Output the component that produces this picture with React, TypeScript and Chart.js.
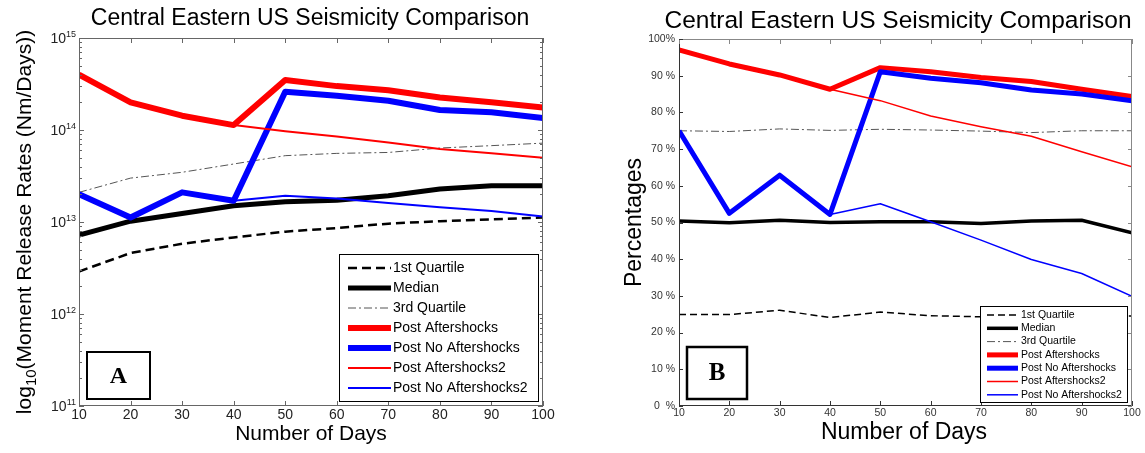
import React, { useEffect, useRef } from 'react';
import { Chart, registerables } from 'chart.js';
Chart.register(...registerables);

// ---------- data ----------
const days = [10, 20, 30, 40, 50, 60, 70, 80, 90, 100];
const seriesLabels = ['1st Quartile', 'Median', '3rd Quartile', 'Post Aftershocks', 'Post No Aftershocks', 'Post Aftershocks2', 'Post No Aftershocks2'];

// Panel A: moment release rates (Nm/Days)
const rateQ1 = [2.9e12, 4.6e12, 5.8e12, 6.8e12, 7.85e12, 8.6e12, 9.6e12, 1.02e13, 1.07e13, 1.12e13];
const rateMedian = [7.2e12, 1.02e13, 1.24e13, 1.5e13, 1.66e13, 1.72e13, 1.93e13, 2.28e13, 2.48e13, 2.48e13];
const rateQ3 = [2.1e13, 3.0e13, 3.47e13, 4.27e13, 5.26e13, 5.57e13, 5.7e13, 6.37e13, 6.76e13, 7.2e13];
const ratePostAfter = [4.0e14, 2.0e14, 1.43e14, 1.13e14, 3.5e14, 3.0e14, 2.7e14, 2.26e14, 2.0e14, 1.75e14];
const ratePostNoAfter = [2.0e13, 1.12e13, 2.1e13, 1.7e13, 2.6e14, 2.36e14, 2.08e14, 1.65e14, 1.56e14, 1.35e14];
const ratePostAfter2 = [4.0e14, 2.0e14, 1.43e14, 1.13e14, 9.7e13, 8.5e13, 7.3e13, 6.2e13, 5.6e13, 5.0e13];
const ratePostNoAfter2 = [2.0e13, 1.12e13, 2.1e13, 1.7e13, 1.93e13, 1.8e13, 1.61e13, 1.45e13, 1.32e13, 1.15e13];

// Panel B: percentages
const pctQ1 = [24.9, 24.9, 26.1, 24.1, 25.6, 24.6, 24.3, 24.5, 24.6, 24.5];
const pctMedian = [50.4, 49.9, 50.6, 50.0, 50.2, 50.2, 49.7, 50.4, 50.6, 47.2];
const pctQ3 = [75.0, 74.8, 75.5, 75.1, 75.4, 75.2, 74.9, 74.5, 75.0, 75.0];
const pctPostAfter = [97.0, 93.2, 90.2, 86.3, 92.2, 91.1, 89.5, 88.4, 86.3, 84.3];
const pctPostNoAfter = [75.0, 52.5, 62.9, 52.2, 91.1, 89.3, 88.1, 86.1, 85.0, 83.2];
const pctPostAfter2 = [97.0, 93.2, 90.2, 86.3, 83.2, 79.0, 76.1, 73.5, 69.3, 65.2];
const pctPostNoAfter2 = [75.0, 52.5, 62.9, 52.2, 55.1, 50.2, 45.2, 39.9, 36.1, 29.9];

// ticks
const dayTicks = [10, 20, 30, 40, 50, 60, 70, 80, 90, 100];
const dayTickLabels = ['10', '20', '30', '40', '50', '60', '70', '80', '90', '100'];
const rateExponents = [11, 12, 13, 14, 15];
const pctTicks = [0, 10, 20, 30, 40, 50, 60, 70, 80, 90, 100];
const pctTickLabels = ['0  %', '10 %', '20 %', '30 %', '40 %', '50 %', '60 %', '70 %', '80 %', '90 %', '100%'];

const titleText = 'Central Eastern US Seismicity Comparison';
const xTitleText = 'Number of Days';
const FONT = '"Liberation Sans", Arial, sans-serif';
const SERIF = '"Liberation Serif", "Times New Roman", serif';

type Style = { color: string; width: number; dash: number[] };

const stylesA: Style[] = [
  { color: '#000000', width: 2.5, dash: [9, 5] },
  { color: '#000000', width: 5, dash: [] },
  { color: '#555555', width: 1, dash: [8, 3, 2, 3] },
  { color: '#ff0000', width: 6, dash: [] },
  { color: '#0000ff', width: 6, dash: [] },
  { color: '#ff0000', width: 2, dash: [] },
  { color: '#0000ff', width: 2, dash: [] },
];
const stylesB: Style[] = [
  { color: '#000000', width: 1.5, dash: [7, 4] },
  { color: '#000000', width: 3.5, dash: [] },
  { color: '#555555', width: 1, dash: [8, 3, 2, 3] },
  { color: '#ff0000', width: 5, dash: [] },
  { color: '#0000ff', width: 5, dash: [] },
  { color: '#ff0000', width: 1.5, dash: [] },
  { color: '#0000ff', width: 1.5, dash: [] },
];

function makeDatasets(series: number[][], styles: Style[]) {
  return series.map((vals, i) => ({
    label: seriesLabels[i],
    data: days.map((d, j) => ({ x: d, y: vals[j] })),
    borderColor: styles[i].color,
    backgroundColor: styles[i].color,
    borderWidth: styles[i].width,
    borderDash: styles[i].dash,
    borderJoinStyle: 'round' as const,
    pointRadius: 0,
    fill: false,
    tension: 0,
    order: series.length - 1 - i,
  }));
}

type Decor = {
  titleFont: number; titleX: number; titleY: number;
  xTitleFont: number; xTitleX: number; xTitleY: number;
  yTitle: { text: string; sub?: boolean }[]; yTitleFont: number; yTitleX: number;
  axisTL: string; axisRight: string; axisTop: string;
  tickFont: number; tickColor: string; xTickTop: number;
  log: boolean;
  yLabelRight: number;
  legend: { x: number; y: number; w: number; h: number; row0: number; dy: number; s0: number; s1: number; tx: number; font: number };
  box: { x: number; y: number; w: number; h: number; lw: number; letter: string; font: number };
};

function makePlugin(decor: Decor) {
  return {
    id: 'decor',
    afterDraw(chart: any) {
      const ctx: CanvasRenderingContext2D = chart.ctx;
      const { left, right, top, bottom } = chart.chartArea;
      const xs = chart.scales.x;
      const ys = chart.scales.y;
      ctx.save();
      ctx.setLineDash([]);
      const line = (x1: number, y1: number, x2: number, y2: number, c: string, w = 1) => {
        ctx.strokeStyle = c; ctx.lineWidth = w;
        ctx.beginPath(); ctx.moveTo(x1, y1); ctx.lineTo(x2, y2); ctx.stroke();
      };
      // axes box
      line(left + 0.5, top, left + 0.5, bottom, decor.axisTL);
      line(left, bottom - 0.5, right, bottom - 0.5, decor.axisTL);
      line(left, top + 0.5, right, top + 0.5, decor.axisTop);
      line(right - 0.5, top, right - 0.5, bottom, decor.axisRight);
      // x ticks (inward, top and bottom)
      dayTicks.forEach((v) => {
        const px = Math.round(xs.getPixelForValue(v)) + 0.5;
        line(px, bottom, px, bottom - 5, decor.axisTL);
        line(px, top, px, top + 5, decor.axisTop);
      });
      // y ticks
      if (decor.log) {
        rateExponents.forEach((e) => {
          const py = Math.round(ys.getPixelForValue(Math.pow(10, e))) + 0.5;
          line(left, py, left + 5, py, decor.axisTL);
          line(right, py, right - 5, py, decor.axisRight);
          if (e < 15) {
            for (let m = 2; m <= 9; m++) {
              const pm = Math.round(ys.getPixelForValue(m * Math.pow(10, e))) + 0.5;
              line(left, pm, left + 3, pm, decor.axisTL);
              line(right, pm, right - 3, pm, decor.axisRight);
            }
          }
        });
      } else {
        pctTicks.forEach((v) => {
          const py = Math.round(ys.getPixelForValue(v)) + 0.5;
          line(left, py, left + 4, py, decor.axisTL);
          line(right, py, right - 4, py, decor.axisRight);
        });
      }
      // tick labels
      ctx.fillStyle = decor.tickColor;
      ctx.font = `${decor.tickFont}px ${FONT}`;
      ctx.textAlign = 'center';
      ctx.textBaseline = 'top';
      dayTicks.forEach((v, i) => {
        ctx.fillText(dayTickLabels[i], xs.getPixelForValue(v), decor.xTickTop);
      });
      if (decor.log) {
        rateExponents.forEach((e) => {
          const py = ys.getPixelForValue(Math.pow(10, e));
          ctx.font = `${Math.round(decor.tickFont * 0.65)}px ${FONT}`;
          const sup = String(e);
          const sw = ctx.measureText(sup).width;
          ctx.textAlign = 'right';
          ctx.textBaseline = 'alphabetic';
          ctx.fillText(sup, decor.yLabelRight, py - 1);
          ctx.font = `${decor.tickFont}px ${FONT}`;
          ctx.textBaseline = 'middle';
          ctx.fillText('10', decor.yLabelRight - sw, py + 1);
        });
      } else {
        ctx.textAlign = 'right';
        ctx.textBaseline = 'middle';
        pctTicks.forEach((v, i) => {
          ctx.fillText(pctTickLabels[i], decor.yLabelRight, ys.getPixelForValue(v));
        });
      }
      // titles
      ctx.fillStyle = '#000';
      ctx.textAlign = 'center';
      ctx.textBaseline = 'alphabetic';
      ctx.font = `${decor.titleFont}px ${FONT}`;
      ctx.fillText(titleText, decor.titleX, decor.titleY);
      ctx.font = `${decor.xTitleFont}px ${FONT}`;
      ctx.fillText(xTitleText, decor.xTitleX, decor.xTitleY);
      // y title rotated
      ctx.save();
      ctx.translate(decor.yTitleX, (top + bottom) / 2);
      ctx.rotate(-Math.PI / 2);
      const mainF = `${decor.yTitleFont}px ${FONT}`;
      const subF = `${Math.round(decor.yTitleFont * 0.7)}px ${FONT}`;
      let total = 0;
      decor.yTitle.forEach((p) => { ctx.font = p.sub ? subF : mainF; total += ctx.measureText(p.text).width; });
      let cx = -total / 2;
      ctx.textAlign = 'left';
      decor.yTitle.forEach((p) => {
        ctx.font = p.sub ? subF : mainF;
        ctx.fillText(p.text, cx, p.sub ? 5 : 0);
        cx += ctx.measureText(p.text).width;
      });
      ctx.restore();
      // legend
      const L = decor.legend;
      ctx.fillStyle = '#fff';
      ctx.fillRect(L.x, L.y, L.w, L.h);
      ctx.strokeStyle = '#000';
      ctx.lineWidth = 1;
      ctx.strokeRect(L.x + 0.5, L.y + 0.5, L.w, L.h);
      ctx.font = `${L.font}px ${FONT}`;
      ctx.textAlign = 'left';
      ctx.textBaseline = 'middle';
      chart.data.datasets.forEach((ds: any, i: number) => {
        const y = L.row0 + i * L.dy;
        ctx.strokeStyle = ds.borderColor;
        ctx.lineWidth = ds.borderWidth;
        ctx.setLineDash(ds.borderDash || []);
        ctx.beginPath(); ctx.moveTo(L.s0, y); ctx.lineTo(L.s1, y); ctx.stroke();
        ctx.setLineDash([]);
        ctx.fillStyle = '#000';
        ctx.fillText(ds.label, L.tx, y);
      });
      // letter box
      const B = decor.box;
      ctx.fillStyle = '#fff';
      ctx.fillRect(B.x, B.y, B.w, B.h);
      ctx.strokeStyle = '#000';
      ctx.lineWidth = B.lw;
      ctx.strokeRect(B.x, B.y, B.w, B.h);
      ctx.fillStyle = '#000';
      ctx.font = `bold ${B.font}px ${SERIF}`;
      ctx.textAlign = 'center';
      ctx.textBaseline = 'middle';
      ctx.fillText(B.letter, B.x + B.w / 2, B.y + B.h / 2 + 1);
      ctx.restore();
    },
  };
}

function Panel(props: { left: number; width: number; type: 'log' | 'pct' }) {
  const ref = useRef<HTMLCanvasElement | null>(null);
  useEffect(() => {
    if (!ref.current) return;
    const isLog = props.type === 'log';
    const series = isLog
      ? [rateQ1, rateMedian, rateQ3, ratePostAfter, ratePostNoAfter, ratePostAfter2, ratePostNoAfter2]
      : [pctQ1, pctMedian, pctQ3, pctPostAfter, pctPostNoAfter, pctPostAfter2, pctPostNoAfter2];
    const decor: Decor = isLog
      ? {
          titleFont: 23, titleX: 310, titleY: 25,
          xTitleFont: 21, xTitleX: 311, xTitleY: 440,
          yTitle: [{ text: 'log' }, { text: '10', sub: true }, { text: '(Moment Release Rates (Nm/Days))' }],
          yTitleFont: 21, yTitleX: 31,
          axisTL: '#666666', axisRight: '#666666', axisTop: '#666666',
          tickFont: 14, tickColor: '#222', xTickTop: 408, log: true, yLabelRight: 76,
          legend: { x: 339, y: 254, w: 199, h: 147, row0: 268, dy: 20, s0: 348, s1: 391, tx: 393, font: 14 },
          box: { x: 87, y: 352, w: 63, h: 47, lw: 2, letter: 'A', font: 24 },
        }
      : {
          titleFont: 24.5, titleX: 318, titleY: 28,
          xTitleFont: 23, xTitleX: 324, xTitleY: 439,
          yTitle: [{ text: 'Percentages' }],
          yTitleFont: 23, yTitleX: 61,
          axisTL: '#333333', axisRight: '#888888', axisTop: '#888888',
          tickFont: 10.5, tickColor: '#333', xTickTop: 408, log: false, yLabelRight: 95,
          legend: { x: 400, y: 306, w: 147, h: 96, row0: 315, dy: 13.3, s0: 407, s1: 438, tx: 441, font: 10.5 },
          box: { x: 107, y: 347, w: 60, h: 52, lw: 2.5, letter: 'B', font: 25 },
        };
    const padding = isLog
      ? { left: 79, top: 38, right: 17, bottom: 47 }
      : { left: 99, top: 39, right: 13, bottom: 47 };
    const chart = new Chart(ref.current, {
      type: 'line',
      data: { datasets: makeDatasets(series, isLog ? stylesA : stylesB) as any },
      options: {
        animation: false,
        responsive: false,
        maintainAspectRatio: false,
        layout: { padding },
        plugins: { legend: { display: false }, tooltip: { enabled: false }, title: { display: false } },
        scales: {
          x: { type: 'linear', min: 10, max: 100, display: false },
          y: isLog
            ? { type: 'logarithmic', min: 1e11, max: 1e15, display: false }
            : { type: 'linear', min: 0, max: 100, display: false },
        },
      },
      plugins: [makePlugin(decor)],
    });
    return () => chart.destroy();
  }, []);
  return (
    <canvas
      ref={ref}
      width={props.width}
      height={453}
      style={{ position: 'absolute', left: props.left, top: 0, width: props.width, height: 453 }}
    />
  );
}

export default function App() {
  useEffect(() => {
    document.body.style.margin = '0';
  }, []);
  return (
    <div style={{ position: 'relative', width: 1145, height: 453, background: '#ffffff', overflow: 'hidden' }}>
      <Panel left={0} width={560} type="log" />
      <Panel left={580} width={565} type="pct" />
    </div>
  );
}
